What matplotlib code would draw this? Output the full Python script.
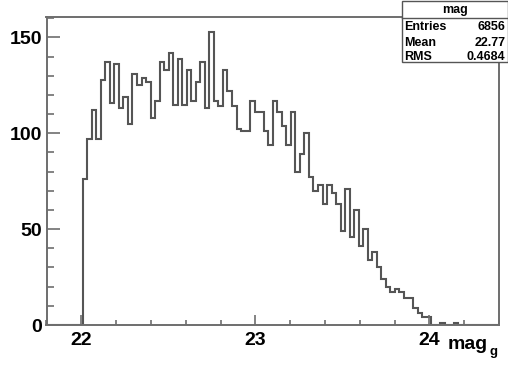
import numpy as np
import matplotlib
matplotlib.use("Agg")
import matplotlib.pyplot as plt
from matplotlib.ticker import MultipleLocator
from matplotlib.patches import Rectangle
from matplotlib.lines import Line2D

# Histogram definition: 100 bins between 21.8 and 24.4
x_low = 21.8
x_high = 24.4
n_bins = 100
counts = [
    0, 0, 0, 0, 0, 0, 0, 0,
    76, 97, 112, 97, 128, 137, 116, 136, 113, 119, 105, 131, 125, 129, 127, 108, 117, 137, 133,
    142, 115, 139, 115, 133, 117, 127, 137, 113, 153, 117, 114, 133, 122, 114, 102, 101, 101, 117,
    111, 111, 101, 94, 117, 111, 104, 94, 111, 80, 89, 100, 77, 70, 73, 63, 73, 69, 63,
    49, 71, 46, 60, 41, 50, 34, 38, 30, 24, 20, 17, 19, 17, 14, 14, 9, 6, 4, 4, 0, 0, 1, 0, 0, 1,
    0, 0, 0, 0, 0, 0, 0, 0, 0,
]

hist_name = "mag"
stat_names = ["Entries", "Mean", "RMS"]
stat_values = ["6856", "22.77", "0.4684"]

x_major = [22, 23, 24]
y_major = [0, 50, 100, 150]

W, H = 508, 378
fig = plt.figure(figsize=(W / 100, H / 100), dpi=100)
fig.patch.set_facecolor("white")


def fx(px):
    return px / W


def fy(py):
    return 1 - py / H


ax_l, ax_r, ax_t, ax_b = 46.5, 499.0, 17.0, 325.0
ax = fig.add_axes([fx(ax_l), fy(ax_b), fx(ax_r) - fx(ax_l), fy(ax_t) - fy(ax_b)])

edges = x_low + (x_high - x_low) / n_bins * np.arange(n_bins + 1)
ax.stairs(counts, edges, color="#555555", lw=1.5, baseline=0)

ax.set_xlim(x_low, x_high)
ax.set_ylim(0, 1.05 * max(counts))

frame_col = "#6e6e6e"
for s in ax.spines.values():
    s.set_color(frame_col)
    s.set_linewidth(1.4)

ax.set_xticks(x_major)
ax.set_xticklabels([str(v) for v in x_major])
ax.set_yticks(y_major)
ax.set_yticklabels([str(v) for v in y_major])
ax.xaxis.set_minor_locator(MultipleLocator(0.2))
ax.yaxis.set_minor_locator(MultipleLocator(10))

font = "Liberation Sans"
ax.tick_params(axis="x", which="both", direction="in", top=False, color=frame_col, width=1.2)
ax.tick_params(axis="x", which="major", length=7.5, pad=5)
ax.tick_params(axis="x", which="minor", length=3.6)
ax.tick_params(axis="y", which="both", direction="in", right=False, color=frame_col, width=1.2)
ax.tick_params(axis="y", which="major", length=9.4, pad=3)
ax.tick_params(axis="y", which="minor", length=5)
for lab in ax.get_xticklabels() + ax.get_yticklabels():
    lab.set_fontfamily(font)
    lab.set_fontweight("bold")
    lab.set_fontsize(14)

# Axis title with subscript
fig.text(fx(488), fy(349), "mag", ha="right", va="baseline",
         fontfamily=font, fontweight="bold", fontsize=14)
fig.text(fx(489.5), fy(355.5), "g", ha="left", va="baseline",
         fontfamily=font, fontweight="bold", fontsize=9.5)

# Statistics box
bx_l, bx_r, bx_t, bx_b = 401.5, 507.5, 0.5, 62.0
fig.patches.append(Rectangle((fx(bx_l), fy(bx_b)), fx(bx_r) - fx(bx_l), fy(bx_t) - fy(bx_b),
                             transform=fig.transFigure, facecolor="white",
                             edgecolor="#555555", lw=1.0, zorder=5))
fig.lines.append(Line2D([fx(bx_l), fx(bx_r)], [fy(18), fy(18)], transform=fig.transFigure,
                        color="#555555", lw=1.0, zorder=6))
fig.text(fx(455), fy(10), hist_name, ha="center", va="center",
         fontfamily=font, fontweight="bold", fontsize=9, zorder=7)
row_y = [27.5, 42.5, 56.5]
for name, val, yy in zip(stat_names, stat_values, row_y):
    fig.text(fx(404), fy(yy), name, ha="left", va="center",
             fontfamily=font, fontweight="bold", fontsize=9, zorder=7)
    fig.text(fx(505.5), fy(yy), val, ha="right", va="center",
             fontfamily=font, fontweight="bold", fontsize=9, zorder=7)

fig.savefig("out.png", dpi=100)
